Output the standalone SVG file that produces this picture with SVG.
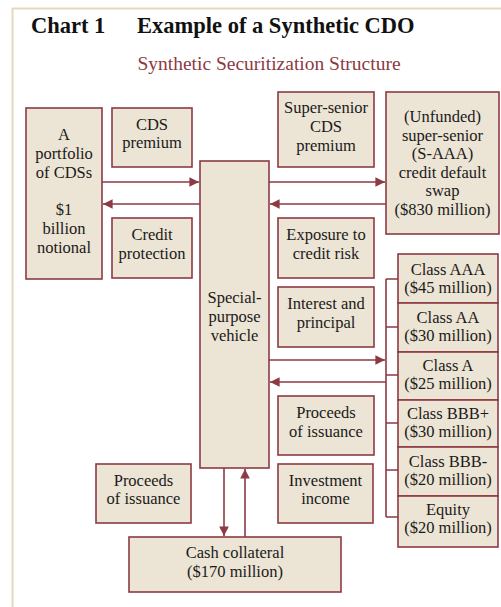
<svg xmlns="http://www.w3.org/2000/svg" width="501" height="607" viewBox="0 0 501 607">
<style>
.bx{fill:#ECE4D4;stroke:#8C3A44;stroke-width:1.6}
.t{font-family:"Liberation Serif","DejaVu Serif",serif;font-size:16.5px;fill:#1a1a1a;text-anchor:middle}
.ln{stroke:#8C3A44;stroke-width:1.6;fill:none}
.ttl{font-family:"Liberation Serif","DejaVu Serif",serif;font-size:22.5px;font-weight:bold;fill:#111}
.sub{font-family:"Liberation Serif","DejaVu Serif",serif;font-size:19.5px;fill:#8C3A44;text-anchor:middle}
</style>
<defs>
<marker id="ah" viewBox="0 0 10 10" refX="10" refY="5" markerWidth="7" markerHeight="6" orient="auto" markerUnits="strokeWidth">
<path d="M0,0 L10,5 L0,10 z" fill="#8C3A44"/>
</marker>
</defs>
<rect width="501" height="607" fill="#ffffff"/>
<line x1="12.5" y1="8" x2="12.5" y2="607" stroke="#E6D8BE" stroke-width="2"/>
<line x1="12" y1="8.5" x2="501" y2="8.5" stroke="#E6D8BE" stroke-width="2"/>
<text class="ttl" x="31" y="33">Chart 1</text>
<text class="ttl" x="137" y="33">Example of a Synthetic CDO</text>
<text class="sub" x="269" y="70">Synthetic Securitization Structure</text>

<g id="connectors">
<line class="ln" x1="102" y1="182" x2="199" y2="182" marker-end="url(#ah)"/>
<line class="ln" x1="200" y1="204" x2="103" y2="204" marker-end="url(#ah)"/>
<line class="ln" x1="269" y1="182" x2="385" y2="182" marker-end="url(#ah)"/>
<line class="ln" x1="386" y1="204" x2="270" y2="204" marker-end="url(#ah)"/>
<line class="ln" x1="269" y1="360" x2="385" y2="360" marker-end="url(#ah)"/>
<line class="ln" x1="386" y1="382" x2="270" y2="382" marker-end="url(#ah)"/>
<path class="ln" d="M386,279 V517 M386,279 H398 M386,327 H398 M386,375 H398 M386,423 H398 M386,470 H398 M386,517 H398"/>
<line class="ln" x1="224" y1="468" x2="224" y2="536" marker-end="url(#ah)"/>
<line class="ln" x1="245" y1="537" x2="245" y2="469" marker-end="url(#ah)"/>
</g>

<g id="portfolio">
<rect class="bx" x="26" y="108" width="76" height="171"/>
<text class="t" x="64" y="140">A</text>
<text class="t" x="64" y="159">portfolio</text>
<text class="t" x="64" y="178">of CDSs</text>
<text class="t" x="64" y="215">$1</text>
<text class="t" x="64" y="234">billion</text>
<text class="t" x="64" y="253">notional</text>
</g>
<g id="cds-premium">
<rect class="bx" x="112" y="108" width="80" height="59"/>
<text class="t" x="152" y="130">CDS</text>
<text class="t" x="152" y="148">premium</text>
</g>
<g id="credit-protection">
<rect class="bx" x="112" y="218" width="80" height="60"/>
<text class="t" x="152" y="240">Credit</text>
<text class="t" x="152" y="259">protection</text>
</g>
<g id="spv">
<rect class="bx" x="200" y="161" width="69" height="307"/>
<text class="t" x="234.5" y="303">Special-</text>
<text class="t" x="234.5" y="322">purpose</text>
<text class="t" x="234.5" y="341">vehicle</text>
</g>
<g id="super-senior-premium">
<rect class="bx" x="278" y="92" width="96" height="75"/>
<text class="t" x="326" y="113">Super-senior</text>
<text class="t" x="326" y="132">CDS</text>
<text class="t" x="326" y="151">premium</text>
</g>
<g id="super-senior-swap">
<rect class="bx" x="386" y="92" width="113" height="142"/>
<text class="t" x="442.5" y="122">(Unfunded)</text>
<text class="t" x="442.5" y="141">super-senior</text>
<text class="t" x="442.5" y="159">(S-AAA)</text>
<text class="t" x="442.5" y="178">credit default</text>
<text class="t" x="442.5" y="196">swap</text>
<text class="t" x="442.5" y="215">($830 million)</text>
</g>
<g id="exposure">
<rect class="bx" x="278" y="218" width="96" height="60"/>
<text class="t" x="326" y="240">Exposure to</text>
<text class="t" x="326" y="259">credit risk</text>
</g>
<g id="interest">
<rect class="bx" x="278" y="287" width="96" height="60"/>
<text class="t" x="326" y="309">Interest and</text>
<text class="t" x="326" y="328">principal</text>
</g>
<g id="proceeds-right">
<rect class="bx" x="278" y="396" width="96" height="59"/>
<text class="t" x="326" y="418">Proceeds</text>
<text class="t" x="326" y="437">of issuance</text>
</g>
<g id="investment-income">
<rect class="bx" x="278" y="464" width="95" height="59"/>
<text class="t" x="325.5" y="486">Investment</text>
<text class="t" x="325.5" y="504">income</text>
</g>
<g id="class-aaa">
<rect class="bx" x="398" y="254" width="100" height="49"/>
<text class="t" x="448" y="275">Class AAA</text>
<text class="t" x="448" y="293">($45 million)</text>
</g>
<g id="class-aa">
<rect class="bx" x="398" y="303" width="100" height="49"/>
<text class="t" x="448" y="323">Class AA</text>
<text class="t" x="448" y="341">($30 million)</text>
</g>
<g id="class-a">
<rect class="bx" x="398" y="352" width="100" height="48"/>
<text class="t" x="448" y="371">Class A</text>
<text class="t" x="448" y="389">($25 million)</text>
</g>
<g id="class-bbbp">
<rect class="bx" x="398" y="400" width="100" height="47"/>
<text class="t" x="448" y="419">Class BBB+</text>
<text class="t" x="448" y="437">($30 million)</text>
</g>
<g id="class-bbbm">
<rect class="bx" x="398" y="447" width="100" height="49"/>
<text class="t" x="448" y="467">Class BBB-</text>
<text class="t" x="448" y="485">($20 million)</text>
</g>
<g id="equity">
<rect class="bx" x="398" y="496" width="100" height="51"/>
<text class="t" x="448" y="515">Equity</text>
<text class="t" x="448" y="533">($20 million)</text>
</g>
<g id="proceeds-left">
<rect class="bx" x="96" y="464" width="95" height="59"/>
<text class="t" x="143.5" y="486">Proceeds</text>
<text class="t" x="143.5" y="504">of issuance</text>
</g>
<g id="cash-collateral">
<rect class="bx" x="129" y="537" width="212" height="55"/>
<text class="t" x="235" y="558">Cash collateral</text>
<text class="t" x="235" y="577">($170 million)</text>
</g>
</svg>
